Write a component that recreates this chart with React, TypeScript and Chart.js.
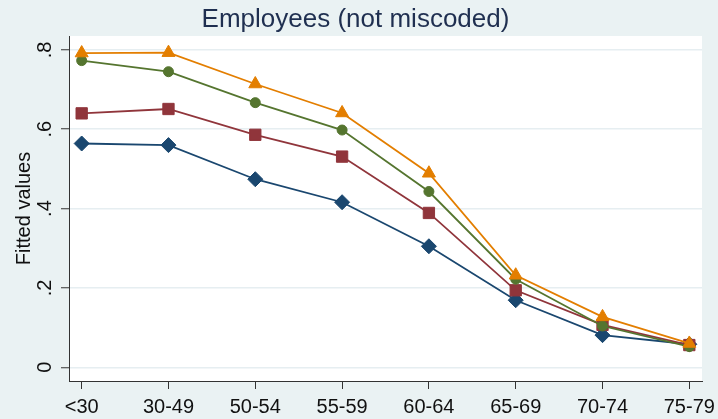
import React, { useEffect, useRef } from 'react';
import { Chart, registerables } from 'chart.js';

Chart.register(...registerables);

// Age bands on the horizontal axis
const AGE_GROUPS = ['<30', '30-49', '50-54', '55-59', '60-64', '65-69', '70-74', '75-79'];

// Vertical axis ticks and their printed labels
const Y_TICKS = [0, 0.2, 0.4, 0.6, 0.8];
const Y_TICK_LABELS = ['0', '.2', '.4', '.6', '.8'];

// Fitted values per age band, one array per series
const fittedSeries1 = [0.564, 0.560, 0.474, 0.416, 0.305, 0.169, 0.081, 0.058];
const fittedSeries2 = [0.640, 0.651, 0.586, 0.531, 0.389, 0.194, 0.107, 0.056];
const fittedSeries3 = [0.773, 0.745, 0.667, 0.598, 0.443, 0.222, 0.104, 0.052];
const fittedSeries4 = [0.792, 0.793, 0.714, 0.641, 0.489, 0.232, 0.127, 0.060];

const FONT = "'Liberation Sans', Arial, Helvetica, sans-serif";
const PAGE_BG = '#EAF2F3';
const AXIS_COLOR = '#333333';
const TEXT_COLOR = '#111111';

// Fills the outer region and the white plot region before anything else is drawn
const plotBackground = {
  id: 'plotBackground',
  beforeDraw(chart: any) {
    const { ctx, chartArea: a, width, height } = chart;
    ctx.save();
    ctx.fillStyle = PAGE_BG;
    ctx.fillRect(0, 0, width, height);
    ctx.fillStyle = '#FFFFFF';
    ctx.fillRect(a.left, a.top, a.right - a.left, a.bottom - a.top);
    ctx.restore();
  },
};

function series(values: number[], color: string, pointStyle: string, radius: number, order: number) {
  return {
    data: values.map((y, i) => ({ x: i, y })),
    borderColor: color,
    backgroundColor: color,
    pointBackgroundColor: color,
    pointBorderColor: color,
    pointBorderWidth: 1,
    borderWidth: 1.8,
    pointStyle,
    pointRadius: radius,
    pointHoverRadius: radius,
    tension: 0,
    order,
  };
}

export default function App() {
  const canvasRef = useRef<HTMLCanvasElement | null>(null);

  useEffect(() => {
    if (!canvasRef.current) return;
    const chart = new Chart(canvasRef.current, {
      type: 'line',
      data: {
        datasets: [
          series(fittedSeries1, '#1A476F', 'rectRot', 7.5, 3),
          series(fittedSeries2, '#90353B', 'rect', 8, 2),
          series(fittedSeries3, '#55752F', 'circle', 5, 1),
          series(fittedSeries4, '#E37E00', 'triangle', 7.5, 0),
        ] as any,
      },
      options: {
        animation: false,
        responsive: false,
        maintainAspectRatio: false,
        devicePixelRatio: 1,
        layout: { padding: { left: 9, right: 16, top: 0, bottom: 0 } },
        plugins: {
          legend: { display: false },
          tooltip: { enabled: false },
          title: {
            display: true,
            text: 'Employees (not miscoded)',
            color: '#1F2F50',
            font: { family: FONT, size: 26, weight: 'normal', lineHeight: 1.2 },
            padding: { top: 4, bottom: 0.8 },
          },
        },
        scales: {
          x: {
            type: 'linear',
            min: -0.146,
            max: 7.146,
            bounds: 'data',
            afterBuildTicks: (s: any) => {
              s.ticks = AGE_GROUPS.map((_, i) => ({ value: i }));
            },
            afterFit: (s: any) => {
              s.height = 38;
              s.paddingLeft = 0;
              s.paddingRight = 0;
            },
            ticks: {
              callback: (v: any) => AGE_GROUPS[Math.round(Number(v))],
              autoSkip: false,
              maxRotation: 0,
              minRotation: 0,
              padding: 6,
              color: TEXT_COLOR,
              font: { family: FONT, size: 20 },
            },
            grid: {
              drawOnChartArea: false,
              tickLength: 8,
              color: AXIS_COLOR,
              tickColor: AXIS_COLOR,
              tickWidth: 1,
            },
            border: { display: true, color: AXIS_COLOR, width: 1 },
          },
          y: {
            type: 'linear',
            min: -0.0346,
            max: 0.835,
            bounds: 'data',
            afterBuildTicks: (s: any) => {
              s.ticks = Y_TICKS.map((v) => ({ value: v }));
            },
            afterFit: (s: any) => {
              s.width = 60;
              s.paddingTop = 0;
              s.paddingBottom = 0;
            },
            ticks: {
              callback: (_v: any, i: number) => Y_TICK_LABELS[i],
              minRotation: 90,
              maxRotation: 90,
              crossAlign: 'center',
              padding: 7.5,
              color: TEXT_COLOR,
              font: { family: FONT, size: 20 },
            },
            title: {
              display: true,
              text: 'Fitted values',
              color: TEXT_COLOR,
              font: { family: FONT, size: 20, lineHeight: 1.2 },
              padding: { top: 3, bottom: 0 },
            },
            grid: {
              color: '#E6EEF1',
              lineWidth: 1.5,
              tickLength: 8,
              tickColor: AXIS_COLOR,
              tickWidth: 1,
            },
            border: { display: true, color: AXIS_COLOR, width: 1 },
          },
        },
      } as any,
      plugins: [plotBackground],
    });
    return () => chart.destroy();
  }, []);

  return (
    <div style={{ position: 'absolute', left: 0, top: 0, width: 718, height: 419 }}>
      <canvas ref={canvasRef} width={718} height={419} style={{ display: 'block' }} />
    </div>
  );
}
